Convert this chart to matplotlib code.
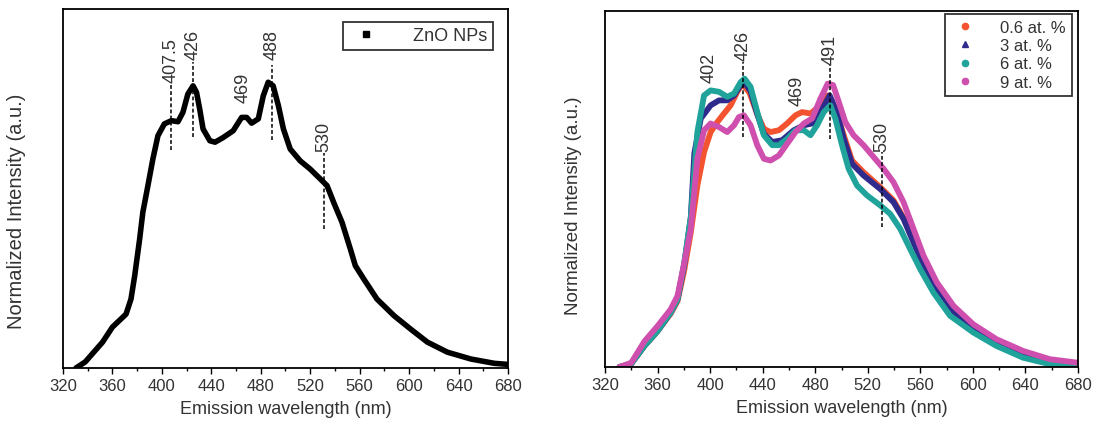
import matplotlib
matplotlib.use("Agg")
import matplotlib.pyplot as plt
from matplotlib.lines import Line2D
from matplotlib.ticker import MultipleLocator

plt.rcParams['font.family'] = ['Liberation Sans', 'DejaVu Sans']

# ---------------- data: left panel (ZnO NPs) ----------------
zno_wl = [330.5, 338, 352, 360, 371, 375, 378, 382, 384.6, 388.7, 392.7, 396.8, 402,
          407.7, 413, 417, 421, 425.2, 428, 430.6, 433.3, 438.8, 443, 449.6, 457.7,
          464.5, 468.6, 472.6, 478, 482, 486, 490, 494.3, 498.3, 503.8, 511.9, 520,
          529.5, 533.6, 539, 545.7, 552.5, 556.5, 563.3, 574, 587.7, 601, 614.8, 631,
          650, 669, 680]
zno_int = [0.0, 0.017, 0.072, 0.114, 0.150, 0.192, 0.257, 0.359, 0.434, 0.508, 0.582,
           0.647, 0.680, 0.689, 0.686, 0.712, 0.763, 0.786, 0.768, 0.721, 0.666, 0.633,
           0.629, 0.642, 0.661, 0.698, 0.698, 0.682, 0.694, 0.758, 0.796, 0.786, 0.730,
           0.666, 0.610, 0.577, 0.554, 0.522, 0.508, 0.461, 0.406, 0.331, 0.285, 0.248,
           0.192, 0.146, 0.109, 0.072, 0.044, 0.025, 0.013, 0.010]

left_peaks = ["407.5", "426", "469", "488", "530"]
left_peak_x = [407.5, 425.5, 466, 489, 531]
left_text_y = [0.797, 0.861, 0.740, 0.862, 0.605]
left_line_lo = [0.606, 0.643, None, 0.636, 0.387]
left_line_hi = [0.796, 0.852, None, 0.845, 0.600]

# ---------------- data: right panel (doped) ----------------
s06_wl = [331, 339.7, 349.9, 360, 370, 375.2, 380.2, 385.3, 390.3, 395.4, 400.4, 405.5,
          410.6, 415.6, 420.7, 424.5, 430, 435.9, 440.9, 446, 452.3, 458.6, 465, 470,
          476.4, 484, 489.5, 495.3, 501.7, 508, 516.8, 529.5, 539.6, 547.2, 554.8, 562.4,
          572.5, 585.2, 600.3, 618, 638.3, 660, 680]
s06_int = [0.0, 0.008, 0.059, 0.101, 0.150, 0.185, 0.27, 0.378, 0.51, 0.604, 0.66, 0.688,
           0.712, 0.735, 0.773, 0.796, 0.77, 0.71, 0.669, 0.66, 0.665, 0.684, 0.707, 0.716,
           0.712, 0.735, 0.763, 0.726, 0.651, 0.58, 0.547, 0.505, 0.468, 0.42, 0.355, 0.29,
           0.222, 0.156, 0.108, 0.07, 0.033, 0.011, 0.004]

s3_wl = [331, 339.7, 349.9, 360, 370, 375.2, 380.2, 385.3, 388, 392.9, 400.4, 406.8, 413,
         418.2, 423.2, 426, 430.8, 435.9, 440.9, 447.3, 454.8, 463.7, 471.3, 477.6, 484,
         491, 496.6, 501.7, 508, 516.8, 529.5, 539.6, 547.2, 554.8, 562.4, 572.5, 585.2,
         600.3, 618, 638.3, 660, 680]
s3_int = [0.0, 0.008, 0.059, 0.101, 0.153, 0.19, 0.285, 0.42, 0.60, 0.698, 0.735, 0.749,
          0.749, 0.763, 0.792, 0.80, 0.775, 0.71, 0.655, 0.632, 0.637, 0.665, 0.679, 0.684,
          0.716, 0.763, 0.716, 0.641, 0.571, 0.538, 0.50, 0.463, 0.416, 0.35, 0.285, 0.219,
          0.153, 0.105, 0.068, 0.031, 0.010, 0.003]

s6_wl = [331, 339.7, 349.9, 360, 370, 375.2, 380.2, 385.3, 390.3, 395.4, 400.4, 406.8, 413,
         418.2, 423.2, 426.2, 430.8, 435.9, 440.9, 447.3, 452.3, 458.6, 465, 471.3, 476.4,
         481.4, 486.5, 491.5, 495.3, 500.4, 505.4, 511.8, 519.4, 529.5, 537.1, 544.7, 552.3,
         559.9, 570, 582.6, 600.3, 618, 638.3, 658.5, 673.7, 680]
s6_int = [0.0, 0.008, 0.059, 0.101, 0.153, 0.19, 0.29, 0.42, 0.66, 0.763, 0.777, 0.773,
          0.759, 0.768, 0.80, 0.81, 0.787, 0.716, 0.651, 0.623, 0.623, 0.641, 0.665, 0.665,
          0.651, 0.679, 0.716, 0.735, 0.698, 0.623, 0.557, 0.51, 0.482, 0.454, 0.43, 0.388,
          0.331, 0.275, 0.209, 0.144, 0.097, 0.059, 0.026, 0.008, 0.003, 0.002]

s9_wl = [331, 340, 350, 360, 370, 375.2, 380.2, 385.3, 390.3, 395.4, 400.4, 406.8, 413,
         418.2, 421.9, 425.7, 430.8, 435.9, 440.9, 446, 452.3, 458.6, 465, 471.3, 477.6,
         484, 489.5, 493.6, 497.9, 502.9, 509.2, 516.8, 524.4, 532, 539.6, 547.2, 554.8,
         562.4, 572.5, 585.2, 600.3, 618, 638.3, 658.5, 680]
s9_int = [0.0, 0.012, 0.072, 0.115, 0.162, 0.20, 0.29, 0.388, 0.585, 0.665, 0.684, 0.674,
          0.66, 0.679, 0.702, 0.707, 0.679, 0.623, 0.585, 0.58, 0.594, 0.627, 0.66, 0.684,
          0.698, 0.754, 0.796, 0.792, 0.745, 0.688, 0.651, 0.623, 0.59, 0.557, 0.519, 0.463,
          0.388, 0.313, 0.238, 0.172, 0.12, 0.078, 0.045, 0.022, 0.012]

series_labels = ["0.6 at. %", "3 at. %", "6 at. %", "9 at. %"]
series_colors = ["#F4532F", "#2E2B8C", "#1FA39A", "#CF4FAE"]
series_markers = ["o", "^", "o", "o"]

right_peaks = ["402", "426", "469", "491", "530"]
right_peak_x = [399.5, 425, 466, 491.5, 530.7]
right_text_y = [0.80, 0.862, 0.735, 0.85, 0.607]
right_line_lo = [None, 0.646, None, 0.641, 0.392]
right_line_hi = [None, 0.857, None, 0.848, 0.604]

x_ticks = list(range(320, 681, 40))

# ---------------- figure ----------------
fig = plt.figure(figsize=(10.93, 4.31), dpi=100)
axL = fig.add_axes([63 / 1093, 62 / 431, 445 / 1093, 359 / 431])
axR = fig.add_axes([605 / 1093, 63 / 431, 473 / 1093, 356 / 431])

txt_col = "#333333"


def style_axis(ax, ylabel_size):
    ax.set_xlim(320, 680)
    ax.set_ylim(0, 1)
    ax.set_xticks(x_ticks)
    ax.xaxis.set_minor_locator(MultipleLocator(20))
    ax.set_yticks([])
    ax.tick_params(axis='x', which='major', direction='out', length=4.5, width=1.0,
                   labelsize=12, labelcolor=txt_col, pad=3)
    ax.tick_params(axis='x', which='minor', direction='out', length=2.5, width=1.0)
    for sp in ax.spines.values():
        sp.set_linewidth(1.3)
        sp.set_color("black")
    ax.set_xlabel("Emission wavelength (nm)", fontsize=13, color=txt_col, labelpad=5)
    ax.set_ylabel("Normalized Intensity (a.u.)", fontsize=ylabel_size, color=txt_col,
                  labelpad=14)


style_axis(axL, 14.5)
style_axis(axR, 13.5)
axL.yaxis.set_label_coords(-0.083, 0.44)
axR.yaxis.set_label_coords(-0.049, 0.455)

# left curve
axL.plot(zno_wl, zno_int, color="black", lw=4.0, solid_joinstyle="round",
         solid_capstyle="round")

for lab, x, ty, lo, hi in zip(left_peaks, left_peak_x, left_text_y, left_line_lo, left_line_hi):
    if lo is not None:
        axL.plot([x, x], [lo, hi], color="black", lw=1.1, ls=(0, (2.5, 1.5)))
    axL.text(x, ty, lab, rotation=90, ha="center", va="bottom", fontsize=13, color=txt_col)

legL = axL.legend(handles=[Line2D([], [], ls="none", marker="s", ms=4, color="black")],
                  labels=["ZnO NPs"], loc="upper right", bbox_to_anchor=(0.966, 0.964),
                  borderaxespad=0, fontsize=13, frameon=True, fancybox=False,
                  handletextpad=1.6, borderpad=0.3, handlelength=2.0)
legL.get_frame().set_edgecolor("black")
legL.get_frame().set_linewidth(1.3)
for t in legL.get_texts():
    t.set_color(txt_col)

# right curves
for wl, iv, c in zip([s06_wl, s3_wl, s6_wl, s9_wl], [s06_int, s3_int, s6_int, s9_int],
                     series_colors):
    axR.plot(wl, iv, color=c, lw=4.2, solid_joinstyle="round", solid_capstyle="round")

for lab, x, ty, lo, hi in zip(right_peaks, right_peak_x, right_text_y, right_line_lo, right_line_hi):
    if lo is not None:
        axR.plot([x, x], [lo, hi], color="black", lw=1.1, ls=(0, (2.5, 1.5)))
    axR.text(x, ty, lab, rotation=90, ha="center", va="bottom", fontsize=13, color=txt_col)

handles = [Line2D([], [], ls="none", marker=m, ms=4.5, color=c)
           for m, c in zip(series_markers, series_colors)]
legR = axR.legend(handles=handles, labels=series_labels, loc="upper right",
                  bbox_to_anchor=(0.987, 0.992), borderaxespad=0, fontsize=12,
                  frameon=True, fancybox=False, handletextpad=1.2, borderpad=0.35,
                  labelspacing=0.2, handlelength=1.8)
legR.get_frame().set_edgecolor("black")
legR.get_frame().set_linewidth(1.3)
for t in legR.get_texts():
    t.set_color(txt_col)

fig.savefig("out.png", dpi=100)
